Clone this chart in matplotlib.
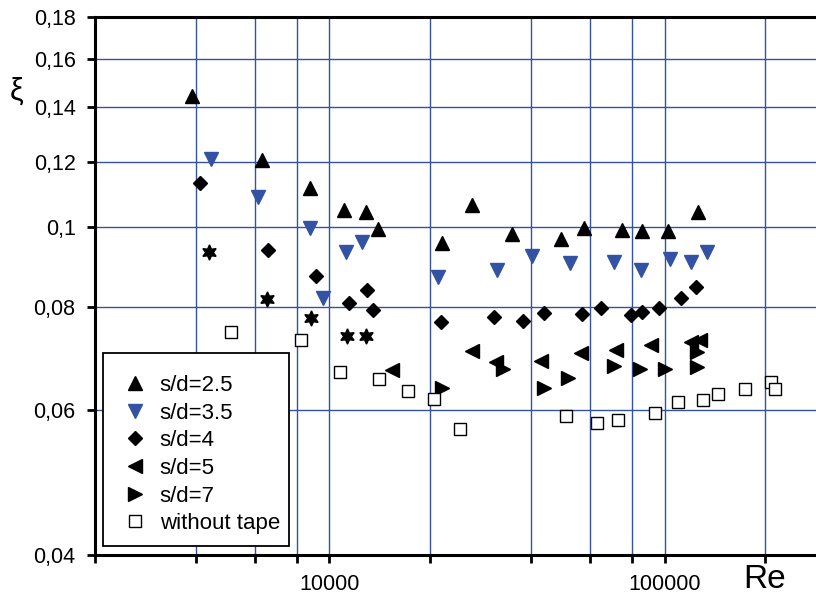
import matplotlib
matplotlib.use('Agg')
import matplotlib.pyplot as plt
from matplotlib.patches import Rectangle
from matplotlib.ticker import FixedLocator, FixedFormatter, NullLocator

plt.rcParams['font.family'] = ['Liberation Sans', 'DejaVu Sans']

# s/d = 2.5
re_25 = [3890, 6280, 8750, 11050, 12830, 13930, 21720, 26580, 34990, 49090,
         57500, 74820, 85500, 102200, 125700]
xi_25 = [0.1443, 0.1207, 0.1116, 0.1050, 0.1044, 0.0995, 0.0957, 0.1064, 0.0981,
         0.0968, 0.0998, 0.0992, 0.0990, 0.0990, 0.1044]

# s/d = 3.5
re_35 = [4450, 6130, 8750, 9560, 11250, 12530, 21040, 31690, 40140, 52230,
         70800, 85100, 103800, 120000, 134000]
xi_35 = [0.1210, 0.1088, 0.0998, 0.0820, 0.0933, 0.0960, 0.0870, 0.0887, 0.0923,
         0.0905, 0.0908, 0.0887, 0.0915, 0.0908, 0.0933]

# s/d = 4
re_4 = [4110, 6570, 9110, 11460, 12910, 13460, 21520, 31040, 37890, 43680,
        56600, 64510, 79300, 85500, 96500, 112000, 124200]
xi_4 = [0.1133, 0.0938, 0.0873, 0.0809, 0.0839, 0.0794, 0.0768, 0.0779, 0.0770,
        0.0786, 0.0785, 0.0799, 0.0782, 0.0788, 0.0797, 0.0821, 0.0847]

# s/d = 5
re_5 = [15370, 26580, 31470, 42700, 56230, 71650, 91150, 119700, 127900]
xi_5 = [0.0671, 0.0708, 0.0687, 0.0688, 0.0703, 0.0710, 0.0720, 0.0726, 0.0730]

# s/d = 7
re_7 = [21670, 33030, 43680, 51400, 70530, 84530, 100150, 125300, 125300]
xi_7 = [0.0638, 0.0672, 0.0638, 0.0657, 0.0679, 0.0672, 0.0672, 0.0706, 0.0677]

# without tape
re_0 = [5080, 8260, 10750, 14080, 17120, 20460, 24570, 50810, 62750, 72800,
        93700, 110000, 130000, 144100, 174000, 207500, 213800]
xi_0 = [0.0746, 0.0729, 0.0667, 0.0655, 0.0633, 0.0618, 0.0569, 0.0590, 0.0578,
        0.0584, 0.0595, 0.0614, 0.0617, 0.0628, 0.0637, 0.0649, 0.0636]

# unlabeled series (stars)
re_star = [4370, 6510, 8810, 11330, 12850]
xi_star = [0.0934, 0.0818, 0.0776, 0.0737, 0.0737]

x_ticks = [2000, 4000, 6000, 8000, 10000, 20000, 40000, 60000, 80000, 100000, 200000]
x_labels = ['', '', '', '', '10000', '', '', '', '', '100000', '']
y_ticks = [0.04, 0.06, 0.08, 0.1, 0.12, 0.14, 0.16, 0.18]
y_labels = ['0,04', '0,06', '0,08', '0,1', '0,12', '0,14', '0,16', '0,18']

blue = '#3452a4'

fig = plt.figure(figsize=(8.16, 6), dpi=100)
ax = fig.add_axes([95 / 816, 45 / 600, 721 / 816, 538 / 600])
ax.set_xscale('log')
ax.set_yscale('log')
ax.set_xlim(2000, 283000)
ax.set_ylim(0.04, 0.18)

for x in x_ticks[1:]:
    ax.axvline(x, color=blue, lw=1.0, zorder=0)
for y in y_ticks[1:-1]:
    ax.axhline(y, color=blue, lw=1.0, zorder=0)

ax.plot(re_25, xi_25, '^', color='black', ms=10, ls='none', label='s/d=2.5')
ax.plot(re_35, xi_35, 'v', color=blue, ms=10, ls='none', label='s/d=3.5')
ax.plot(re_4, xi_4, 'D', color='black', ms=7.5, ls='none', label='s/d=4')
ax.plot(re_5, xi_5, '<', color='black', ms=10, ls='none', label='s/d=5')
ax.plot(re_7, xi_7, '>', color='black', ms=10, ls='none', label='s/d=7')
ax.plot(re_0, xi_0, 's', mfc='white', mec='black', mew=1.0, ms=8, ls='none',
        label='without tape')
ax.plot(re_star, xi_star, marker=(6, 1, 0), color='black', ms=11, ls='none')

ax.xaxis.set_major_locator(FixedLocator(x_ticks))
ax.xaxis.set_major_formatter(FixedFormatter(x_labels))
ax.xaxis.set_minor_locator(NullLocator())
ax.yaxis.set_major_locator(FixedLocator(y_ticks))
ax.yaxis.set_major_formatter(FixedFormatter(y_labels))
ax.yaxis.set_minor_locator(NullLocator())
ax.tick_params(axis='both', direction='out', length=6, width=2, labelsize=15.5,
               color='black')
ax.tick_params(axis='x', pad=8)
ax.tick_params(axis='y', pad=8)

for s in ['left', 'bottom', 'top']:
    ax.spines[s].set_linewidth(2.2)
ax.spines['right'].set_visible(False)

fig.text(17 / 816, 1 - 92 / 600, 'ξ', fontsize=22, ha='center', va='center')
fig.text(765 / 816, 1 - 580 / 600, 'Re', fontsize=24, ha='center', va='center')

# legend box drawn by hand (pixel box 103..289 x 353..546)
box = Rectangle((103 / 816, 1 - 546 / 600), 186 / 816, 193 / 600,
                transform=fig.transFigure, facecolor='white', edgecolor='black',
                lw=1.3, zorder=4.9, clip_on=False)
ax.add_patch(box)

leg = ax.legend(loc='upper left', bbox_to_anchor=(103 / 816, 1 - 356 / 600),
                bbox_transform=fig.transFigure, borderaxespad=0,
                fontsize=16, frameon=False, handlelength=1.2, handletextpad=0.5,
                labelspacing=0.3, borderpad=0.85, numpoints=1)

fig.savefig('out.png', dpi=100)
